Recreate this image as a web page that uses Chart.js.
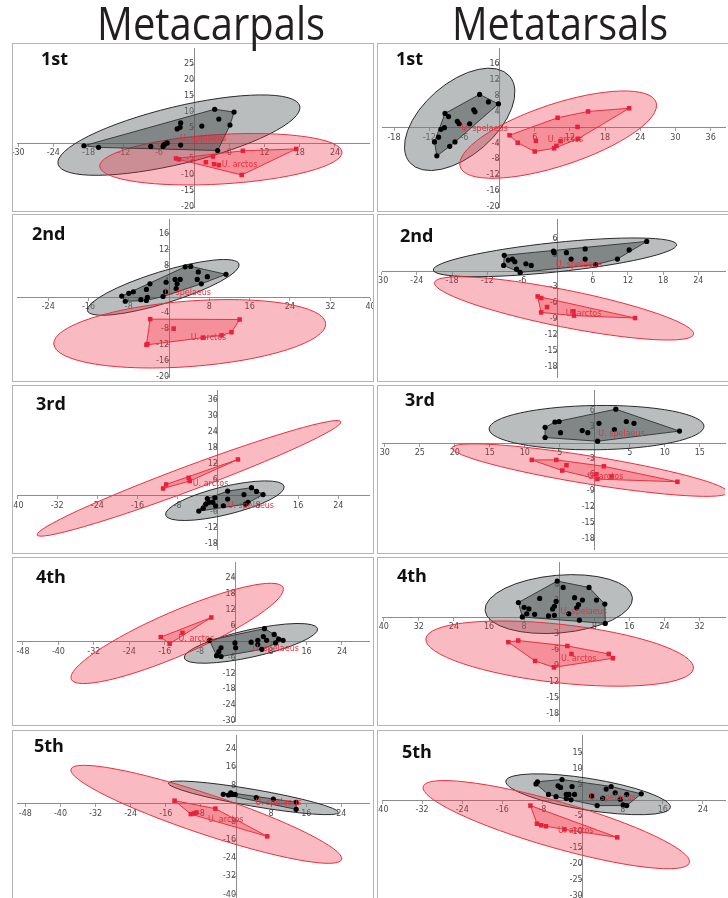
<!DOCTYPE html>
<html>
<head>
<meta charset="utf-8">
<title>Metacarpals / Metatarsals</title>
<script src="https://cdn.jsdelivr.net/npm/chart.js@4.4.1/dist/chart.umd.min.js"></script>
<style>
  body { margin: 0; width: 728px; height: 898px; overflow: hidden; background: #fff; position: relative; }
  .panel { position: absolute; border: 1px solid #b4b4b4; box-sizing: border-box; overflow: hidden; background: #fff; }
  .panel canvas { position: absolute; left: 0; top: 0; }
  #head { position: absolute; left: 0; top: 0; z-index: 5; pointer-events: none; }
</style>
</head>
<body>
<canvas id="head" width="728" height="60"></canvas>
<script>
// ----- Data (panels in reading order: MC1, MT1, MC2, MT2, ... MC5, MT5) -----
const columnTitles = ["Metacarpals", "Metatarsals"];
const panelTitles = ["1st", "1st", "2nd", "2nd", "3rd", "3rd", "4th", "4th", "5th", "5th"];

const xRanges = [[-30.2, 29.8], [-20.05, 38.45], [-30.2, 39.7], [-29.95, 28.55], [-40.0, 30.1],
                 [-30.4, 18.6], [-49.35, 30.1], [-40.4, 37.8], [-49.9, 30.3], [-40.0, 28.4]];
const yRanges = [[-20.0, 30.1], [-20.0, 20.1], [-20.1, 19.75], [-19.8, 9.8], [-20.05, 39.7],
                 [-19.8, 10.0], [-29.9, 30.0], [-19.3, 10.35], [-42.4, 30.2], [-31.3, 20.6]];

const xTickValues = [
  [-30, -24, -18, -12, -6, 6, 12, 18, 24],
  [-18, -12, -6, 6, 12, 18, 24, 30, 36],
  [-24, -16, -8, 8, 16, 24, 32, 40],
  [-30, -24, -18, -12, -6, 6, 12, 18, 24],
  [-40, -32, -24, -16, -8, 8, 16, 24],
  [-30, -25, -20, -15, -10, -5, 5, 10, 15],
  [-48, -40, -32, -24, -16, -8, 8, 16, 24],
  [-40, -32, -24, -16, -8, 8, 16, 24, 32],
  [-48, -40, -32, -24, -16, -8, 8, 16, 24],
  [-40, -32, -24, -16, -8, 8, 16, 24]
];
const xTickLabels = [
  ["-30", "-24", "-18", "-12", "-6", "6", "12", "18", "24"],
  ["-18", "-12", "-6", "6", "12", "18", "24", "30", "36"],
  ["-24", "-16", "-8", "8", "16", "24", "32", "40"],
  ["-30", "-24", "-18", "-12", "-6", "6", "12", "18", "24"],
  ["-40", "-32", "-24", "-16", "-8", "8", "16", "24"],
  ["30", "25", "20", "15", "10", "5", "5", "10", "15"],
  ["-48", "-40", "-32", "-24", "-16", "-8", "8", "16", "24"],
  ["40", "32", "24", "16", "8", "8", "16", "24", "32"],
  ["-48", "-40", "-32", "-24", "-16", "-8", "8", "16", "24"],
  ["-40", "-32", "-24", "-16", "-8", "8", "16", "24"]
];
const yTickValues = [
  [25, 20, 15, 10, 5, -5, -10, -15, -20],
  [16, 12, 8, 4, -4, -8, -12, -16, -20],
  [16, 12, 8, 4, -4, -8, -12, -16, -20],
  [6, 3, -3, -6, -9, -12, -15, -18],
  [36, 30, 24, 18, 12, 6, -6, -12, -18],
  [6, 3, -3, -6, -9, -12, -15, -18],
  [24, 18, 12, 6, -6, -12, -18, -24, -30],
  [6, 3, -3, -6, -9, -12, -15, -18],
  [24, 16, 8, -8, -16, -24, -32, -40],
  [15, 10, 5, -5, -10, -15, -20, -25, -30]
];

// U. spelaeus specimens (black dots)
const spelaeusPoints = [
  [[-18.8,-0.7],[-16.3,-1.2],[-7.4,-0.9],[-5.3,-0.9],[-5.0,-0.2],[-4.6,0.2],[-5.2,-0.5],[-2.3,-0.5],[-2.9,4.6],
   [-2.4,5.1],[-2.3,6.5],[1.3,5.5],[3.5,10.8],[6.8,9.9],[4.2,7.7],[6.1,5.8],[4.0,-2.2]],
  [[-3.4,8.4],[-1.9,6.5],[-0.2,6.0],[-9.3,3.6],[-8.7,2.8],[-4.4,4.5],[-4.2,4.0],[-7.2,1.6],[-6.9,1.0],[-5.1,1.0],
   [-10.0,-0.4],[-9.4,0.0],[-10.4,-2.4],[-11.1,-3.6],[-7.6,-3.6],[-8.5,-4.7],[-10.7,-7.1]],
  [[-9.4,0.3],[-8.7,-1.0],[-8.0,1.0],[-7.1,1.4],[-5.6,-0.6],[-4.5,2.0],[-4.3,0.0],[-4.5,-0.8],[-3.8,3.4],[-1.2,0.2],
   [-0.7,1.4],[-0.6,3.8],[1.2,4.5],[1.6,3.4],[2.2,4.5],[1.4,2.2],[3.2,7.7],[4.3,7.8],[5.8,6.4],[5.6,4.5],[7.6,5.2],
   [6.4,3.4],[11.3,5.8]],
  [[-9.1,3.0],[-9.2,1.1],[-8.4,2.1],[-7.7,2.3],[-7.3,1.8],[-7.0,0.4],[-6.4,-0.2],[-5.4,1.4],[-4.5,1.1],[-0.7,3.8],
   [-0.6,3.5],[1.5,3.5],[2.3,2.3],[4.7,4.2],[4.7,2.3],[6.5,1.25],[10.2,2.3],[12.2,4.0],[15.2,5.6]],
  [[-3.8,-5.8],[-2.9,-4.7],[-2.4,-3.2],[-2.1,-1.1],[-1.75,-2.5],[-1.0,-2.5],[-0.6,-0.8],[-0.45,-3.8],[1.1,-3.8],
   [1.95,-1.3],[1.95,1.7],[5.2,0.4],[5.5,-3.2],[6.0,-2.5],[6.7,3.0],[7.7,1.6],[9.0,0.4]],
  [[-7.1,3.0],[-7.1,1.1],[-5.7,4.0],[-5.1,4.1],[-4.9,2.0],[-1.8,2.4],[-1.0,2.0],[0.6,3.75],[0.4,0.4],[3.0,6.4],
   [2.8,2.6],[4.5,4.1],[5.6,3.75],[12.1,2.3]],
  [[-5.9,0.5],[-3.3,-2.3],[-3.8,-3.8],[-4.3,-5.3],[-3.3,-5.6],[-0.15,-0.5],[0,-2.3],[3.5,-0.2],[5.0,0.5],[5.0,-1.1],
   [5.9,-2.9],[6.25,1.9],[6.5,4.9],[7.0,0.5],[8.7,2.7],[9.0,-0.5],[9.7,1.0],[10.7,0.5]],
  [[-0.45,6.8],[0.9,5.6],[6.8,5.6],[-9.3,2.8],[-8.0,1.9],[-6.9,1.6],[-4.45,3.55],[-0.7,3.0],[-1.1,2.1],[-1.5,1.6],
   [3.5,3.7],[5.3,3.25],[4.4,2.4],[4.0,1.8],[8.5,3.25],[10.4,2.5],[-8.4,0.1],[-7.4,0.7],[-5.6,0.6],[-2.45,0.3],
   [-1.1,0.4],[2.2,0.7],[4.6,-0.5],[10.5,-1.1]],
  [[-2.9,4.1],[-1.7,3.8],[-1.2,4.75],[-0.8,4.05],[-0.2,4.05],[4.6,2.7],[8.5,2.0],[13.7,0.6],[13.7,-2.5]],
  [[-9.3,5.2],[-9.0,5.9],[-4.1,6.6],[-4.9,4.6],[-4.4,4.1],[-2.1,4.4],[-6.8,1.9],[-5.3,1.2],[-3.25,1.9],[-2.7,1.9],
   [-1.6,1.9],[-3.25,0.6],[-2.3,0.2],[1.8,1.4],[2.9,-1.6],[4.0,0.7],[4.7,3.6],[5.7,4.4],[6.5,2.4],[7.5,0.4],
   [8.8,1.9],[8.1,-1.4],[8.8,-1.6],[11.7,2.1]]
];

// U. arctos specimens (red squares)
const arctosPoints = [
  [[-3.1,-4.7],[-2.6,-5.0],[3.2,-4.1],[2.0,-5.9],[3.4,-6.5],[4.2,-6.8],[8.1,-9.9],[8.3,-2.3],[17.4,-1.7]],
  [[1.7,-1.9],[3.1,-3.8],[6.0,-6.0],[6.2,-3.3],[9.9,2.5],[13.3,0.2],[15.1,4.1],[22.1,4.9],[10.4,-3.4],[9.7,-4.6],
   [9.3,-5.2],[13.4,-2.8]],
  [[-3.75,-5.5],[0.9,-7.9],[-4.3,-11.8],[-4.5,-12.0],[6.7,-10.2],[10.4,-9.6],[12.4,-8.8],[14.0,-5.6]],
  [[-3.4,-4.7],[-2.8,-5.0],[-1.8,-6.7],[-2.8,-7.7],[2.7,-7.5],[2.8,-8.3],[13.2,-8.75]],
  [[-10.9,2.7],[-10.3,4.2],[-5.8,6.7],[-5.6,5.5],[4.0,13.6]],
  [[-9.0,-3.1],[-5.5,-3.1],[-4.05,-4.1],[-4.65,-5.1],[1.3,-4.3],[0.23,-5.8],[0.37,-6.7],[2.4,-6.2],[11.8,-7.2]],
  [[-16.9,1.7],[-14.9,-0.8],[-12.0,3.3],[-5.5,9.1]],
  [[-11.6,-4.6],[-9.35,-4.3],[1.86,-5.3],[2.8,-6.8],[-5.5,-8.1],[-1.2,-9.3],[11.3,-6.8],[12.25,-7.6]],
  [[-14.0,1.3],[-10.3,-4.6],[-9.5,-4.3],[-9.0,-3.9],[-4.7,-2.2],[7.1,-14.4]],
  [[-10.4,-1.6],[-9.1,-7.3],[-8.25,-7.8],[-7.3,-8.1],[-3.6,-9.1],[6.9,-11.6]]
];

// 95% ellipses: both ends of the long axis (x1, y1, x2, y2) and the short/long axis ratio
const spelaeusEllipses = [
  [-23.2,-6.5,18.0,11.8,0.23], [-15.3,-8.8,1.7,13.0,0.55], [-16.2,-3.4,13.9,8.4,0.20], [-21.2,0.24,20.3,5.0,0.12],
  [-10.4,-7.3,13.2,3.5,0.23], [-15.1,2.7,15.6,3.2,0.206], [-11.6,-6.2,18.5,4.9,0.20], [-16.9,1.3,16.7,3.7,0.39],
  [-15.4,9.0,23.3,-3.9,0.097], [-15.3,6.1,17.5,-2.2,0.19]
];
const arctosEllipses = [
  [-16.1,-7.2,25.2,-2.7,0.204], [-6.7,-9.9,26.7,6.4,0.30], [-22.9,-11.8,31.1,-6.6,0.24], [-21.0,-2.1,23.2,-11.8,0.14],
  [-36.0,-14.8,24.5,27.8,0.075], [-20.4,-0.83,19.0,-9.2,0.10], [-37.1,-14.2,10.7,20.4,0.19], [-30.4,-3.96,30.6,-9.5,0.217],
  [-37.6,15.2,24.05,-24.6,0.14], [-31.8,4.4,21.3,-19.6,0.166]
];

// where the group names sit (left end, middle of text), in data units
const spelaeusLabelAt = [[-2.4,1.6],[-6.5,-0.2],[-0.9,1.2],[-0.3,1.25],[1.95,-4.0],[0.5,1.85],[3.8,-2.6],[0.3,1.1],[4.4,0.3],[1.4,0.7]];
const arctosLabelAt = [[4.7,-6.7],[8.2,-3.0],[4.3,-10.2],[1.4,-8.0],[-5.0,4.5],[-1.0,-6.2],[-12.9,1.0],[0.4,-7.7],[-6.4,-7.1],[-4.9,-9.6]];

// ----- Layout -----
const colLeft = [12, 377];
const colWidth = [362, 353];
const rowTop = [43, 214, 385, 557, 730];
const rowHeight = [169, 168, 169, 169, 175];
const titleAt = [[28,21],[18,21],[19,25],[22,27],[23,24],[27,20],[23,25],[19,24],[21,21],[24,27]];
const headerSpan = [[97, 325], [452, 668]];

const spelFill = "rgba(118,124,124,0.5)";
const spelHullFill = "rgba(60,66,66,0.45)";
const arctFill = "rgba(238,48,68,0.33)";
const arctHullFill = "rgba(236,40,62,0.3)";
const arctRed = "#e8303e";

Chart.defaults.font.family = "'DejaVu Sans'";

function convexHull(pts) {
  const p = pts.slice().sort((a, b) => a[0] - b[0] || a[1] - b[1]);
  const cross = (o, a, b) => (a[0] - o[0]) * (b[1] - o[1]) - (a[1] - o[1]) * (b[0] - o[0]);
  const lower = [], upper = [];
  for (const q of p) {
    while (lower.length >= 2 && cross(lower[lower.length - 2], lower[lower.length - 1], q) <= 0) lower.pop();
    lower.push(q);
  }
  for (let k = p.length - 1; k >= 0; k--) {
    const q = p[k];
    while (upper.length >= 2 && cross(upper[upper.length - 2], upper[upper.length - 1], q) <= 0) upper.pop();
    upper.push(q);
  }
  lower.pop(); upper.pop();
  return lower.concat(upper);
}

function drawEllipse(ctx, xs, ys, e, fill, stroke) {
  const x1 = xs.getPixelForValue(e[0]), y1 = ys.getPixelForValue(e[1]);
  const x2 = xs.getPixelForValue(e[2]), y2 = ys.getPixelForValue(e[3]);
  const a = Math.hypot(x2 - x1, y2 - y1) / 2;
  ctx.beginPath();
  ctx.ellipse((x1 + x2) / 2, (y1 + y2) / 2, a, a * e[4], Math.atan2(y2 - y1, x2 - x1), 0, Math.PI * 2);
  ctx.fillStyle = fill;
  ctx.fill();
  ctx.lineWidth = 1;
  ctx.strokeStyle = stroke;
  ctx.stroke();
}

function drawHull(ctx, xs, ys, pts, fill, stroke) {
  const h = convexHull(pts);
  ctx.beginPath();
  h.forEach((q, k) => {
    const px = xs.getPixelForValue(q[0]), py = ys.getPixelForValue(q[1]);
    if (k === 0) ctx.moveTo(px, py); else ctx.lineTo(px, py);
  });
  ctx.closePath();
  ctx.fillStyle = fill;
  ctx.fill();
  ctx.lineWidth = 1;
  ctx.strokeStyle = stroke;
  ctx.stroke();
}

// ellipses + hulls under the points, names and panel title on top
const shapesPlugin = {
  id: "shapes",
  beforeDatasetsDraw(chart, args, opts) {
    const i = opts.panel;
    const { ctx, chartArea: ca } = chart;
    const xs = chart.scales.x, ys = chart.scales.y;
    ctx.save();
    ctx.beginPath();
    ctx.rect(ca.left, ca.top, ca.width, ca.height);
    ctx.clip();
    drawEllipse(ctx, xs, ys, spelaeusEllipses[i], spelFill, "#2a2a2a");
    drawEllipse(ctx, xs, ys, arctosEllipses[i], arctFill, arctRed);
    drawHull(ctx, xs, ys, spelaeusPoints[i], spelHullFill, "#3a3d3d");
    drawHull(ctx, xs, ys, arctosPoints[i], arctHullFill, arctRed);
    ctx.restore();
  },
  afterDatasetsDraw(chart, args, opts) {
    const i = opts.panel;
    const ctx = chart.ctx;
    const xs = chart.scales.x, ys = chart.scales.y;
    ctx.save();
    ctx.font = "8px 'DejaVu Sans'";
    ctx.fillStyle = arctRed;
    ctx.textAlign = "left";
    ctx.textBaseline = "middle";
    ctx.fillText("U. spelaeus", xs.getPixelForValue(spelaeusLabelAt[i][0]), ys.getPixelForValue(spelaeusLabelAt[i][1]));
    ctx.fillText("U. arctos", xs.getPixelForValue(arctosLabelAt[i][0]), ys.getPixelForValue(arctosLabelAt[i][1]));
    ctx.font = "bold 18px 'Open Sans'";
    ctx.fillStyle = "#111";
    ctx.textBaseline = "alphabetic";
    ctx.fillText(panelTitles[i], titleAt[i][0], titleAt[i][1]);
    ctx.restore();
  }
};

function zeroPad(scale) {
  scale.paddingLeft = 0; scale.paddingRight = 0;
  scale.paddingTop = 0; scale.paddingBottom = 0;
}

function makePanel(i) {
  const row = Math.floor(i / 2), col = i % 2;
  const div = document.createElement("div");
  div.className = "panel";
  div.style.left = colLeft[col] + "px";
  div.style.top = rowTop[row] + "px";
  div.style.width = colWidth[col] + "px";
  div.style.height = rowHeight[row] + "px";
  const canvas = document.createElement("canvas");
  canvas.width = colWidth[col] - 2;
  canvas.height = rowHeight[row] - 2;
  div.appendChild(canvas);
  document.body.appendChild(div);

  const tickFont = { family: "'DejaVu Sans'", size: 8 };
  new Chart(canvas.getContext("2d"), {
    type: "scatter",
    data: {
      datasets: [
        {
          data: spelaeusPoints[i].map(p => ({ x: p[0], y: p[1] })),
          pointStyle: "circle",
          pointRadius: 2.6,
          backgroundColor: "#000",
          borderColor: "#000",
          borderWidth: 0
        },
        {
          data: arctosPoints[i].map(p => ({ x: p[0], y: p[1] })),
          pointStyle: "rect",
          pointRadius: 3.2,
          backgroundColor: "#e8203a",
          borderColor: "#e8203a",
          borderWidth: 0
        }
      ]
    },
    options: {
      responsive: false,
      animation: false,
      events: [],
      layout: { padding: 0 },
      scales: {
        x: {
          type: "linear",
          min: xRanges[i][0],
          max: xRanges[i][1],
          position: { y: 0 },
          afterBuildTicks: s => { s.ticks = xTickValues[i].map(v => ({ value: v })); },
          afterFit: zeroPad,
          ticks: { callback: (v, k) => xTickLabels[i][k], autoSkip: false, maxRotation: 0, font: tickFont, color: "#4a4a4a", padding: 2 },
          grid: { drawOnChartArea: false, drawTicks: true, tickLength: 3, color: "#a0a0a0" },
          border: { display: true, color: "#8c8c8c", width: 1 }
        },
        y: {
          type: "linear",
          min: yRanges[i][0],
          max: yRanges[i][1],
          position: { x: 0 },
          afterBuildTicks: s => { s.ticks = yTickValues[i].map(v => ({ value: v })); },
          afterFit: zeroPad,
          ticks: { autoSkip: false, font: tickFont, color: "#4a4a4a", padding: 1 },
          grid: { drawOnChartArea: false, drawTicks: true, tickLength: 3, color: "#a0a0a0" },
          border: { display: true, color: "#8c8c8c", width: 1 }
        }
      },
      plugins: {
        legend: { display: false },
        tooltip: { enabled: false },
        shapes: { panel: i }
      }
    },
    plugins: [shapesPlugin]
  });
}

for (let i = 0; i < panelTitles.length; i++) makePanel(i);

// column headers, squeezed to the width they have in the figure
const hctx = document.getElementById("head").getContext("2d");
hctx.font = "46px 'Open Sans'";
hctx.fillStyle = "#231f20";
columnTitles.forEach((t, k) => {
  const w = hctx.measureText(t).width;
  const target = headerSpan[k][1] - headerSpan[k][0];
  hctx.save();
  hctx.translate(headerSpan[k][0], 40);
  hctx.scale(target / w, 1);
  hctx.fillText(t, 0, 0);
  hctx.restore();
});
</script>
</body>
</html>
